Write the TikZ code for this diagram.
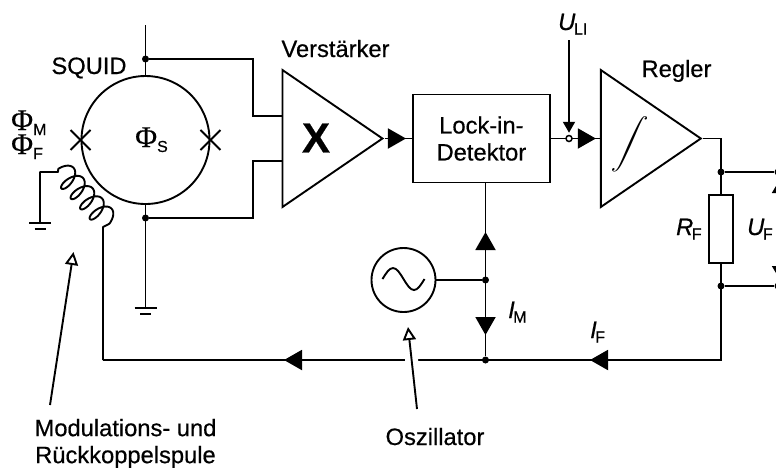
\documentclass[tikz,border=0pt]{standalone}
\usepackage{fontspec}
\setmainfont[FakeBold=0.5]{Liberation Sans}
\newfontfamily\phifont[FakeBold=0.5]{Liberation Serif}
\usetikzlibrary{arrows.meta, positioning, calc, shapes.geometric}
\newcommand{\subfont}{\fontsize{16}{16}\selectfont}
\newcommand{\symb}[2]{\textit{#1}\kern-1.5pt\raisebox{-4.5pt}{\subfont #2}}
\newcommand{\flux}[1]{{\phifont\fontsize{30}{30}\selectfont\char"03A6}\raisebox{-5pt}{\subfont #1}}
\tikzset{
  wire/.style    = {line width=1.9pt},
  ampl/.style    = {isosceles triangle, isosceles triangle stretches, draw, wire,
                    minimum width=137pt, minimum height=100pt, inner sep=0pt,
                    shape border rotate=0},
  lockbox/.style = {rectangle, draw, wire, minimum width=137pt, minimum height=88pt,
                    align=center, inner sep=0pt},
  resbox/.style  = {rectangle, draw, wire, fill=white, minimum width=24pt,
                    minimum height=68pt, inner sep=0pt},
  ring/.style    = {circle, draw, wire, inner sep=0pt},
  dot/.style     = {circle, fill=black, inner sep=0pt, minimum size=7pt},
  opendot/.style = {circle, draw, fill=white, line width=1.5pt, inner sep=0pt, minimum size=6pt},
  arr/.style     = {wire, -{Triangle[length=18pt, width=20pt]}},
  arrs/.style    = {wire, -{Triangle[length=11pt, width=12pt]}},
  ptr/.style     = {wire, -{Triangle[open, fill=white, length=13pt, width=13pt]}},
  gnd/.pic       = {\draw[wire] (-11,0) -- (11,0); \draw[wire] (-5.5,6) -- (5.5,6);},
}

\begin{document}
\begin{tikzpicture}[x=1pt, y=-1pt, font=\fontsize{23.7}{27}\selectfont]
  \useasboundingbox (0,0) rectangle (776,467);

  % main blocks
  \node[ring, minimum size=128pt] (squid) at (145.5,140) {};
  \node[ampl, anchor=west] (amp) at (281.5,138.5) {};
  \node[lockbox, right=27pt of amp.east] (lockin) {Lock-in-\\Detektor};
  \node[ampl, right=49pt of lockin] (regler) {};
  \node[resbox] (rf) at (721,229) {};
  \node[ring, minimum size=64pt] (osc) at (403.5,280) {};

  % labels
  \node[anchor=base] (squidlbl) at (89,74) {SQUID};
  \node[anchor=base] (amplbl) at (335.5,57) {Verstärker};
  \node[anchor=base] (reglbl) at (676.5,77) {Regler};
  \node[font=\fontsize{42}{42}\selectfont\bfseries] (xlbl) at (316,138) {X};
  \node[xslant=0.25, transform shape] (intlbl) at (630,144) {\scalebox{2.5}{$\displaystyle\int$}};
  \node[anchor=base west, inner sep=0pt] (phis) at (135,147) {\flux{S}};
  \node[anchor=base west, inner sep=0pt] (phim) at (11,130) {\flux{M}};
  \node[anchor=base west, inner sep=0pt] (phif) at (11,154) {\flux{F}};
  \node[anchor=base west, inner sep=0pt] (uli) at (558,30) {\symb{U}{LI}};
  \node[anchor=base west, inner sep=0pt] (rflbl) at (676,235) {\symb{R}{F}};
  \node[anchor=base west, inner sep=0pt] (uflbl) at (747,235) {\symb{U}{F}};
  \node[anchor=base west, inner sep=0pt] (imlbl) at (508,318) {\symb{I}{M}};
  \node[anchor=base west, inner sep=0pt] (iflbl) at (590,338) {\symb{I}{F}};
  \node[anchor=base] (osclbl) at (435,445) {Oszillator};
  \node[align=center] (coillbl) at (125.5,443.5) {Modulations- und\\Rückkoppelspule};

  % junctions
  \node[dot] (jtop) at (145.5,59) {};
  \node[dot] (jbot) at (145.5,218) {};
  \node[dot] (jout) at (721,172) {};
  \node[dot] (jret) at (721,286) {};
  \node[dot] (josc) at (485.5,280) {};
  \node[dot] (jfb) at (485.5,360) {};
  \node[dot] (termup) at (778,172) {};
  \node[dot] (termdn) at (778,286) {};

  % free ends and bends
  \coordinate (sqtop) at (145.5,25);
  \coordinate (ulitop) at (569,40);
  \coordinate (aup) at (253,116);
  \coordinate (adn) at (253,161);
  \coordinate (coiltop) at (58,172);
  \coordinate (coilend) at (103,227);
  \coordinate (fbcorner) at (103,360);
  \coordinate (outcorner) at (721,360);
  \coordinate (gndl) at (40,223);
  \coordinate (gndm) at (145.5,308);
  \coordinate (ptrtipa) at (73.5,252);
  \coordinate (ptrenda) at (50,405);
  \coordinate (ptrtipb) at (408,327);
  \coordinate (ptrendb) at (417,409);

  % SQUID side
  \draw[wire] (sqtop) -- (squid.north);
  \draw[wire] (squid.south) -- (gndm);
  \pic at (gndm) {gnd};
  \pic at (gndl) {gnd};
  \draw[wire] (jtop) -| (aup) -- (aup -| amp.west);
  \draw[wire] (jbot) -| (adn) -- (adn -| amp.west);
  \draw[wire] ($(squid.west)+(-10,-10)$) -- ($(squid.west)+(10,10)$);
  \draw[wire] ($(squid.west)+(-10,10)$) -- ($(squid.west)+(10,-10)$);
  \draw[wire] ($(squid.east)+(-10,-10)$) -- ($(squid.east)+(10,10)$);
  \draw[wire] ($(squid.east)+(-10,10)$) -- ($(squid.east)+(10,-10)$);

  % coil
  \draw[wire, line join=round] (gndl) |- (coiltop)
    -- plot[domain=-452:1172, samples=220]
       ({74.6+0.68*(0.03889*\x+6*sin(\x))+0.73*11.5*cos(\x)},
        {185.8+0.73*(0.03889*\x+6*sin(\x))-0.68*11.5*cos(\x)})
    -- (coilend) -- (fbcorner);

  % signal path
  \draw[wire] (amp.east) -- (lockin.west);
  \draw[arr] (amp.east) -- ($(lockin.west)+(-6,0)$);
  \draw[wire] (lockin.east) -- (regler.west);
  \draw[arr] (lockin.east) -- ($(regler.west)+(-4,0)$);
  \node[opendot] (jli) at (569,138.5) {};
  \draw[arrs] (ulitop) -- ($(jli.north)+(0,-2)$);
  \draw[wire] (regler.east) -| (rf.north);
  \draw[wire] (jout) -- (termup);
  \draw[wire] (jret) -- (termdn);
  \draw[wire, {Triangle[length=17pt, width=20pt]}-{Triangle[length=17pt, width=20pt]}]
    (782,176) -- (782,283);

  % feedback path
  \draw[wire] (rf.south) -- (outcorner) -- (fbcorner);
  \draw[arr] (outcorner) -- (590,360);
  \draw[arr] (jfb) -- (284,360);
  \draw[wire] (jfb |- lockin.south) -- (jfb);
  \draw[arr] (josc) -- (485.5,232);
  \draw[arr] (josc) -- (485.5,335);
  \draw[wire] (osc.east) -- (josc);
  \draw[wire] ($(osc.center)+(-21,-1)$) sin ++(10.5,-11) cos ++(10.5,11) sin ++(10.5,11) cos ++(10.5,-11);

  % pointers
  \draw[ptr] (ptrenda) -- (ptrtipa);
  \draw[ptr, preaction={draw=white, line width=13pt, -}] (ptrendb) -- (ptrtipb);
\end{tikzpicture}
\end{document}
